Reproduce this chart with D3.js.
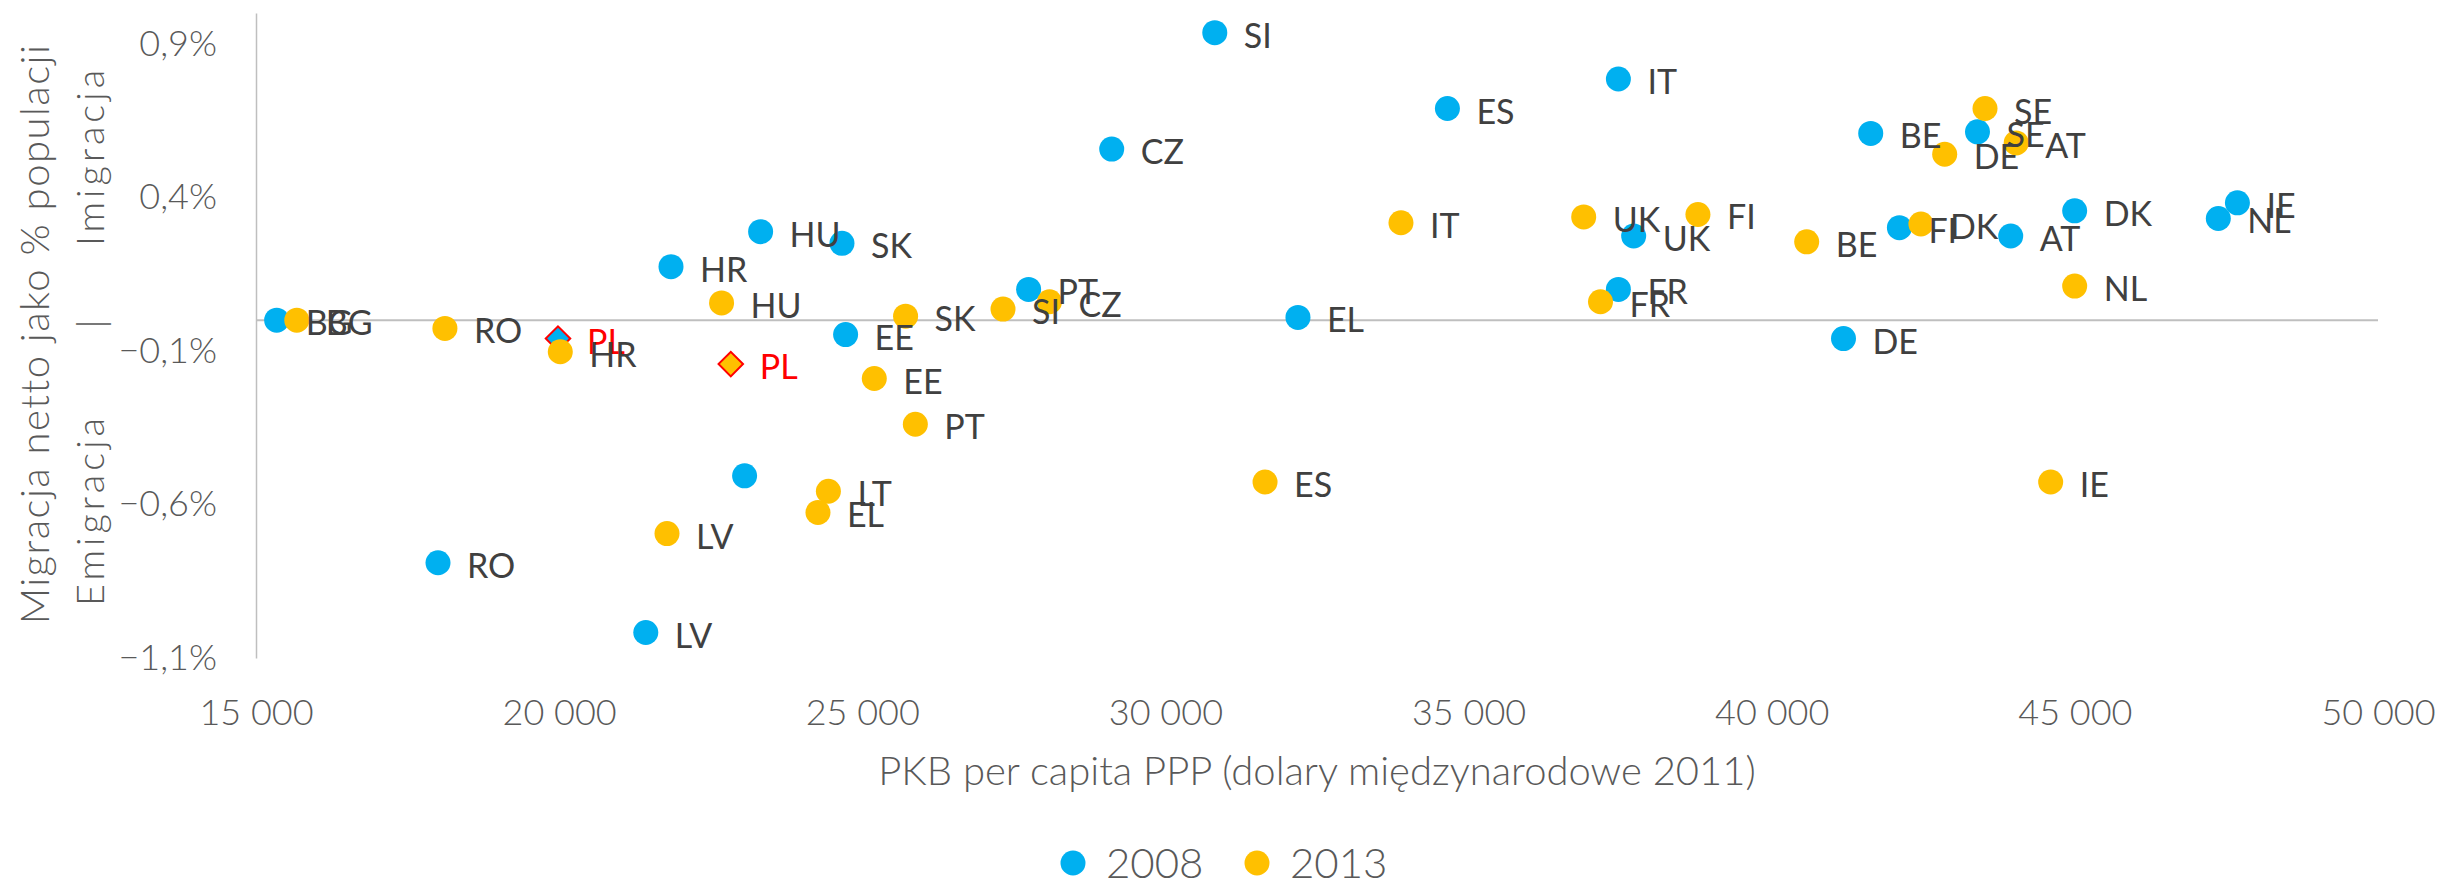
<!DOCTYPE html>
<html>
<head>
<meta charset="utf-8">
<script src="https://cdn.jsdelivr.net/npm/d3@7"></script>
<style>
  body { margin: 0; background: #fff; }
  text { font-family: Lato, "Open Sans", sans-serif; }
</style>
</head>
<body>
<div id="chart"></div>
<script>
// data: GDP per capita PPP (2011 intl $) and net migration (% of population)
var countries2008 = ["BG","RO","PL","HR","HU","SK","EE","LT","LV","SI","IT","ES","CZ","UK","PT","EL","FR","FI","BE","SE","AT","DK","IE","NL","DE"];
var gdp2008 = [15341,18002,19981,21845,23323,24665,24725,23059,21429,30814,37471,34651,29114,37723,27743,32186,37471,42106,41633,43394,43942,44997,47681,47366,41184];
var migration2008 = [0.0,-0.79,-0.06,0.174,0.288,0.25,-0.047,-0.507,-1.017,0.936,0.785,0.689,0.557,0.274,0.1,0.009,0.1,0.301,0.608,0.613,0.274,0.356,0.382,0.331,-0.06];
var unlabeled2008 = ["LT"];

var countries2013 = ["BG","RO","PL","HR","HU","EE","SK","LT","EL","LV","IT","UK","SI","CZ","FR","PT","ES","IE","FI","BE","DE","SE","AT","DK","NL"];
var gdp2013 = [15673,18116,22831,20019,22679,25198,25714,24441,24269,21779,33885,36899,27321,28088,37176,25875,31643,44601,38783,40577,42853,43518,44032,42461,44997];
var migration2013 = [0.0,-0.027,-0.143,-0.103,0.056,-0.19,0.013,-0.557,-0.626,-0.695,0.317,0.336,0.036,0.06,0.06,-0.339,-0.527,-0.527,0.344,0.255,0.54,0.689,0.577,0.313,0.111];

var years = ["2008", "2013"];
var colors = ["#00B0F0", "#FFC000"];
var xTicks = [15000,20000,25000,30000,35000,40000,45000,50000];
var yTicks = [-1.1,-0.6,-0.1,0.4,0.9];
var highlight = "PL";

var width = 2440, height = 887;

var svg = d3.select("#chart")
  .append("svg")
    .attr("width", width)
    .attr("height", height);

var x = d3.scaleLinear().domain([15000, 50000]).range([256, 2378]);
var y = d3.scaleLinear().domain([-1.1, 1.0]).range([658, 13]);

var pl = d3.formatLocale({decimal: ",", thousands: " ", grouping: [3], currency: ["", ""]});
var fmtX = pl.format(",.0f");
var fmtY = function(d) { return pl.format(".1f")(d) + "%"; };

// X axis labels (at the bottom, no line)
var gx = svg.append("g")
  .attr("transform", "translate(0," + 658 + ")")
  .call(d3.axisBottom(x).tickValues(xTicks).tickFormat(fmtX).tickSize(0).tickPadding(41));
gx.select(".domain").remove();
gx.selectAll("text")
  .attr("font-family", null)
  .style("font-size", "36px")
  .style("font-weight", 300)
  .attr("fill", "#595959");

// Y axis
var gy = svg.append("g")
  .attr("transform", "translate(" + 256 + ",0)")
  .call(d3.axisLeft(y).tickValues(yTicks).tickFormat(fmtY).tickSize(0).tickSizeOuter(0).tickPadding(39));
gy.select(".domain").attr("stroke", "#BFBFBF").attr("stroke-width", 1.5);
gy.selectAll("text")
  .attr("font-family", null)
  .style("font-size", "36px")
  .style("font-weight", 300)
  .attr("fill", "#595959");

// zero line
svg.append("line")
  .attr("x1", x(15000)).attr("x2", x(50000))
  .attr("y1", y(0)).attr("y2", y(0))
  .attr("stroke", "#BFBFBF")
  .attr("stroke-width", 2);

// axis titles
svg.append("text")
  .attr("x", (x(15000) + x(50000)) / 2)
  .attr("y", 785)
  .attr("text-anchor", "middle")
  .style("font-size", "40px")
  .style("font-weight", 300)
  .attr("fill", "#595959")
  .text("PKB per capita PPP (dolary międzynarodowe 2011)");

svg.append("text")
  .attr("transform", "translate(49," + 334 + ")rotate(-90)")
  .attr("text-anchor", "middle")
  .style("font-size", "40px")
  .style("font-weight", 300)
  .style("letter-spacing", "1.5px")
  .attr("fill", "#595959")
  .text("Migracja netto jako % populacji");

var sub = [["Imigracja", 156], ["|", 322], ["Emigracja", 510]];
svg.selectAll("sub")
  .data(sub)
  .enter()
  .append("text")
    .attr("transform", function(d) { return "translate(104," + d[1] + ")rotate(-90)"; })
    .attr("text-anchor", "middle")
    .style("font-size", "38px")
    .style("font-weight", 300)
    .style("letter-spacing", "4px")
    .attr("fill", "#595959")
    .text(function(d) { return d[0]; });

// series
var series = [
  {name: years[0], color: colors[0], pts: countries2008.map(function(c, i) { return {c: c, gx: gdp2008[i], m: migration2008[i], label: unlabeled2008.indexOf(c) < 0}; })},
  {name: years[1], color: colors[1], pts: countries2013.map(function(c, i) { return {c: c, gx: gdp2013[i], m: migration2013[i], label: true}; })}
];

var diamond = d3.symbol().type(d3.symbolSquare).size(300);

series.forEach(function(s) {
  var g = svg.append("g");
  g.selectAll("circle")
    .data(s.pts.filter(function(d) { return d.c !== highlight; }))
    .enter()
    .append("circle")
      .attr("cx", function(d) { return x(d.gx); })
      .attr("cy", function(d) { return y(d.m); })
      .attr("r", 12.5)
      .attr("fill", s.color);
  g.selectAll("path")
    .data(s.pts.filter(function(d) { return d.c === highlight; }))
    .enter()
    .append("path")
      .attr("d", diamond)
      .attr("transform", function(d) { return "translate(" + x(d.gx) + "," + y(d.m) + ")rotate(45)"; })
      .attr("fill", s.color)
      .attr("stroke", "#FF0000")
      .attr("stroke-width", 2);
});

series.forEach(function(s) {
  svg.append("g").selectAll("text")
    .data(s.pts.filter(function(d) { return d.label; }))
    .enter()
    .append("text")
      .attr("x", function(d) { return x(d.gx) + 29; })
      .attr("y", function(d) { return y(d.m) + 15; })
      .style("font-size", "34px")
      .attr("fill", function(d) { return d.c === highlight ? "#FF0000" : "#404040"; })
      .text(function(d) { return d.c; });
});

// legend
var leg = svg.append("g");
var legX = [1073, 1257];
years.forEach(function(yr, i) {
  leg.append("circle")
    .attr("cx", legX[i]).attr("cy", 863)
    .attr("r", 12.5)
    .attr("fill", colors[i]);
  leg.append("text")
    .attr("x", legX[i] + 33).attr("y", 878)
    .style("font-size", "42px")
    .style("font-weight", 300)
    .attr("fill", "#595959")
    .text(yr);
});
</script>
</body>
</html>
